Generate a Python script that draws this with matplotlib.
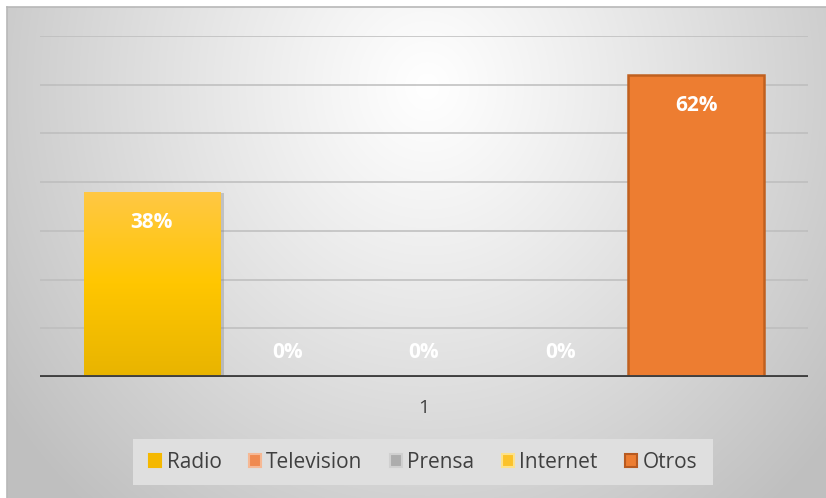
import numpy as np
import matplotlib
matplotlib.use("Agg")
import matplotlib.pyplot as plt
from matplotlib.colors import LinearSegmentedColormap
from matplotlib.patches import Rectangle, Patch

series = ["Radio", "Television", "Prensa", "Internet", "Otros"]
values = [38, 0, 0, 0, 62]
labels = ["38%", "0%", "0%", "0%", "62%"]
category = "1"

face_colors = ["#ffc000", "#ed7d31", "#a5a5a5", "#ffc000", "#ed7d31"]
legend_faces = ["#f5b800", "#ef8a50", "#adadad", "#fbc22a", "#ed7d31"]
legend_edges = ["#f5b800", "#f6b894", "#d0d0d0", "#fde28a", "#b85a20"]

W, H = 826, 498
fig = plt.figure(figsize=(W / 100, H / 100), dpi=100)
fig.patch.set_facecolor("white")

# chart area background: soft radial gradient
bg = fig.add_axes([7 / W, 0, 1 - 7 / W, 1 - 7 / H])
bg.set_axis_off()
yy, xx = np.mgrid[0:491, 0:819]
cx, cy = 420, 80
d = np.sqrt(((xx - cx) / 520.0) ** 2 + ((yy - cy) / 560.0) ** 2)
d = np.clip(d, 0, 1)
shade = 1.0 - 0.25 * d ** 1.1
bg.imshow(np.dstack([shade, shade, shade]), aspect="auto", extent=[0, 1, 0, 1], origin="upper")
bg.set_xlim(0, 1)
bg.set_ylim(0, 1)
bg.plot([0, 1], [1, 1], color="#b8b8b8", lw=1.2, transform=bg.transAxes, clip_on=False)
bg.plot([0, 0], [0, 1], color="#b8b8b8", lw=1.2, transform=bg.transAxes, clip_on=False)

# plot area
left, right, top, base = 40, 808, 36, 377
ax = fig.add_axes([left / W, (H - base) / H, (right - left) / W, (base - top) / H])
ax.patch.set_alpha(0)
for s in ax.spines.values():
    s.set_visible(False)
ax.set_xticks([])
ax.set_yticks([])
for g in range(10, 71, 10):
    ax.axhline(g, color="#bdbdbd", lw=1.1, zorder=1)

x = np.arange(len(series))
bars = ax.bar(x, values, width=1.0, color=face_colors, zorder=3)

# Radio bar: vertical yellow gradient with a light shadow
r = bars[0]
ax.add_patch(Rectangle((r.get_x() + 0.03, 0), r.get_width(), r.get_height() - 0.3,
                       facecolor="#808080", alpha=0.35, lw=0, zorder=2))
grad = LinearSegmentedColormap.from_list("yel", ["#e8b400", "#ffc600", "#ffc845"])
r.set_facecolor("none")
img = ax.imshow(np.linspace(0, 1, 256).reshape(-1, 1), cmap=grad, aspect="auto",
                origin="lower", extent=[r.get_x(), r.get_x() + r.get_width(), 0, r.get_height()],
                zorder=3)
img.set_clip_path(r)
ax.set_xlim(-0.82, 4.82)
ax.set_ylim(0, 70)

# Otros bar outline
bars[4].set_edgecolor("#c0601f")
bars[4].set_linewidth(1.8)

ax.axhline(0, color="#404040", lw=2.8, zorder=5)

for xi, v, lab in zip(x, values, labels):
    yt = v - 6.2 if v > 0 else 5.1
    ax.text(xi, yt, lab, ha="center", va="center", color="white", fontsize=15,
            fontweight="bold", family="Open Sans", zorder=6)

fig.text(424 / W, 1 - 408 / H, category, ha="center", va="center", fontsize=14,
         color="#404040", family="Open Sans")

# legend
lax = fig.add_axes([133 / W, 1 - 485 / H, (713 - 133) / W, (485 - 439) / H])
lax.set_axis_off()
lax.add_patch(Rectangle((0, 0), 1, 1, transform=lax.transAxes, facecolor="#dfdfdf",
                        edgecolor="none"))
handles = [Patch(facecolor=fc, edgecolor=ec, linewidth=1.5) for fc, ec in zip(legend_faces, legend_edges)]
leg = lax.legend(handles, series, loc="center", ncol=5, frameon=False,
                 prop={"family": "Open Sans", "size": 15}, handlelength=0.6, handleheight=0.6,
                 handletextpad=0.25, columnspacing=1.3, labelcolor="#404040")

fig.savefig("out.png", dpi=100)
